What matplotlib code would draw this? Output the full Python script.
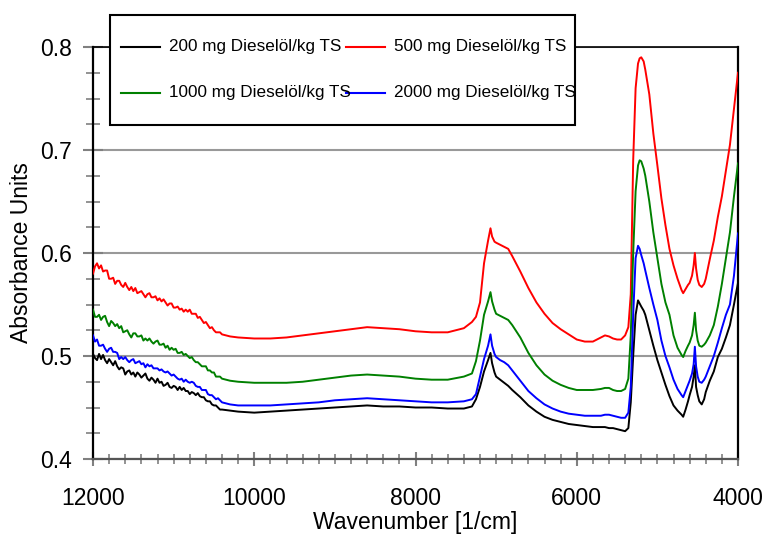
import matplotlib
matplotlib.use("Agg")
import matplotlib.pyplot as plt
from matplotlib.ticker import MultipleLocator
from matplotlib.patches import Rectangle
from matplotlib.lines import Line2D

plt.rcParams['font.family'] = ['Liberation Sans', 'DejaVu Sans']

wavenumber = [
    12000, 11975, 11950, 11925, 11900, 11875, 11850, 11825, 11800, 11775,
    11750, 11725, 11700, 11675, 11650, 11625, 11600, 11575, 11550, 11525,
    11500, 11475, 11450, 11425, 11400, 11375, 11350, 11325, 11300, 11275,
    11250, 11225, 11200, 11175, 11150, 11125, 11100, 11075, 11050, 11025,
    11000, 10975, 10950, 10925, 10900, 10875, 10850, 10825, 10800, 10775,
    10750, 10725, 10700, 10675, 10650, 10625, 10600, 10575, 10550, 10525,
    10500, 10475, 10450, 10425,
    10400, 10300, 10200, 10000, 9800, 9600, 9400, 9200, 9000, 8800, 8600, 8400,
    8200, 8000, 7800, 7600, 7400, 7300, 7250, 7200, 7150, 7100, 7070, 7050, 7020,
    7000, 6950, 6900, 6850, 6800, 6700, 6600, 6500, 6400, 6300, 6200, 6100, 6000,
    5900, 5800, 5700, 5650, 5600, 5550, 5500, 5450, 5400, 5360, 5330, 5300, 5270,
    5240, 5220, 5200, 5170, 5150, 5100, 5050, 5000, 4950, 4900, 4850, 4800, 4750,
    4700, 4680, 4650, 4620, 4600, 4570, 4550, 4535, 4520, 4500, 4480, 4450, 4420,
    4400, 4350, 4300, 4250, 4200, 4150, 4100, 4050, 4000,
]

abs_200 = [
    .502, .498, .496, .502, .497, .501, .496, .493, .497, .494,
    .491, .495, .490, .487, .489, .488, .482, .485, .486, .482,
    .484, .480, .484, .482, .479, .481, .483, .478, .476, .479,
    .477, .474, .478, .474, .475, .471, .472, .474, .470, .469,
    .471, .470, .467, .470, .467, .469, .466, .466, .463, .465,
    .464, .462, .464, .461, .460, .460, .457, .456, .456, .453,
    .452, .452, .450, .448,
    .448, .447, .446, .445, .446, .447, .448, .449, .450, .451, .452, .451,
    .451, .450, .450, .449, .449, .451, .458, .470, .485, .496, .503, .493, .484,
    .480, .477, .474, .471, .467, .460, .452, .446, .441, .438, .436, .434, .433,
    .432, .431, .431, .431, .430, .430, .429, .428, .427, .430, .455, .500, .540,
    .554, .551, .548, .544, .540, .525, .510, .496, .484, .472, .461, .452, .447,
    .443, .441, .448, .456, .462, .470, .480, .491, .470, .462, .456, .453, .458,
    .465, .476, .485, .499, .507, .518, .530, .550, .571,
]

abs_500 = [
    .580, .587, .590, .585, .588, .582, .583, .583, .575, .575,
    .576, .570, .573, .573, .569, .567, .571, .567, .564, .567,
    .563, .566, .561, .562, .563, .560, .557, .560, .561, .557,
    .557, .558, .554, .556, .553, .555, .552, .549, .551, .551,
    .547, .547, .548, .545, .546, .543, .545, .543, .545, .541,
    .541, .541, .537, .538, .535, .532, .533, .530, .527, .528,
    .525, .523, .523, .523,
    .521, .519, .518, .517, .517, .518, .520, .522, .524, .526, .528, .527,
    .526, .524, .523, .523, .527, .533, .538, .552, .590, .612, .624, .616, .611,
    .610, .608, .606, .604, .597, .582, .566, .552, .541, .532, .526, .521, .516,
    .514, .514, .518, .520, .519, .517, .516, .516, .520, .528, .560, .690, .760,
    .784, .789, .790, .786, .778, .754, .716, .685, .653, .627, .604, .588, .575,
    .564, .561, .565, .569, .571, .578, .588, .600, .585, .574, .569, .567, .570,
    .575, .594, .612, .635, .655, .680, .705, .740, .775,
]

abs_1000 = [
    .545, .538, .538, .540, .535, .538, .539, .533, .529, .534,
    .532, .529, .531, .527, .529, .523, .524, .525, .521, .518,
    .522, .522, .519, .519, .520, .515, .517, .515, .517, .514,
    .512, .514, .515, .511, .511, .512, .508, .510, .506, .508,
    .506, .507, .503, .503, .504, .501, .502, .500, .498, .499,
    .496, .494, .494, .492, .490, .490, .490, .486, .486, .484,
    .484, .480, .480, .480,
    .478, .476, .475, .474, .474, .474, .475, .477, .479, .481, .482, .481,
    .480, .478, .477, .477, .480, .483, .495, .515, .540, .553, .562, .553, .545,
    .541, .539, .537, .535, .530, .518, .503, .491, .482, .476, .472, .469, .467,
    .467, .467, .468, .469, .469, .467, .466, .466, .468, .478, .520, .600, .660,
    .685, .690, .689, .682, .675, .650, .620, .595, .570, .552, .540, .520, .508,
    .501, .499, .505, .510, .513, .520, .530, .542, .525, .515, .510, .509, .511,
    .513, .520, .530, .548, .570, .595, .620, .655, .687,
]

abs_2000 = [
    .520, .514, .516, .510, .510, .511, .507, .504, .507, .508,
    .504, .504, .503, .497, .499, .497, .499, .496, .494, .496,
    .497, .493, .494, .495, .492, .493, .489, .492, .490, .491,
    .488, .488, .488, .486, .487, .485, .484, .485, .483, .481,
    .482, .480, .478, .477, .478, .475, .477, .475, .474, .475,
    .474, .471, .470, .470, .467, .467, .467, .463, .462, .462,
    .460, .458, .459, .457,
    .455, .453, .452, .452, .452, .453, .454, .455, .457, .458, .459, .458,
    .457, .456, .455, .455, .456, .458, .463, .480, .497, .510, .521, .510, .502,
    .499, .496, .494, .491, .486, .476, .466, .459, .453, .449, .446, .444, .443,
    .442, .442, .442, .443, .443, .442, .441, .440, .440, .445, .470, .540, .595,
    .607, .604, .598, .590, .583, .566, .550, .535, .515, .500, .489, .477, .468,
    .462, .460, .466, .472, .476, .483, .492, .509, .490, .480, .475, .474, .477,
    .480, .490, .500, .513, .527, .540, .550, .578, .619,
]

series_labels = ["200 mg Dieselöl/kg TS", "500 mg Dieselöl/kg TS",
                 "1000 mg Dieselöl/kg TS", "2000 mg Dieselöl/kg TS"]
series_data = [abs_200, abs_500, abs_1000, abs_2000]
series_colors = ["#000000", "#ff0000", "#008000", "#0000ff"]

W, H = 763, 537
fig = plt.figure(figsize=(W / 100, H / 100), dpi=100)
ax = fig.add_axes([93 / W, 1 - 459 / H, (738 - 93) / W, (459 - 47) / H])

for data, color in zip(series_data, series_colors):
    ax.plot(wavenumber, data, color=color, lw=1.4, zorder=3)

ax.set_xlim(12000, 4000)
ax.set_ylim(0.4, 0.8)
ax.xaxis.set_major_locator(MultipleLocator(2000))
ax.xaxis.set_minor_locator(MultipleLocator(200))
ax.yaxis.set_major_locator(MultipleLocator(0.1))
ax.yaxis.set_minor_locator(MultipleLocator(0.025))
ax.yaxis.set_major_formatter(plt.FuncFormatter(lambda v, p: f"{v:.1f}"))

ax.grid(axis='y', which='major', color='#999999', lw=1.5, zorder=1)
ax.tick_params(axis='x', which='major', direction='inout', length=10, width=1.5,
               color='#808080', labelsize=16.5, pad=15, top=False)
ax.tick_params(axis='x', which='minor', direction='inout', length=7, width=1.2,
               color='#808080', top=False)
ax.tick_params(axis='y', which='major', direction='inout', length=14, width=1.5,
               color='#808080', labelsize=16.5, pad=8, right=False)
ax.tick_params(axis='y', which='minor', direction='inout', length=10, width=1.2,
               color='#808080', right=False)

for side in ['left', 'right']:
    ax.spines[side].set_color('black')
    ax.spines[side].set_linewidth(1.6)
ax.spines['top'].set_color('black')
ax.spines['top'].set_linewidth(1.2)
ax.spines['bottom'].set_color('#555555')
ax.spines['bottom'].set_linewidth(1.6)

ax.set_xlabel("Wavenumber [1/cm]", fontsize=16.5)
ax.set_ylabel("Absorbance Units", fontsize=16.5)
ax.xaxis.set_label_coords(0.5, (459 - 522) / 412)
ax.yaxis.set_label_coords((22 - 93) / 645, 0.5)
ax.xaxis.label.set_va('center')
ax.yaxis.label.set_va('center')

# legend box (drawn manually to reproduce the overlapping layout)
def fx(px):
    return px / W

def fy(py):
    return 1 - py / H

fig.add_artist(Rectangle((fx(110), fy(125)), fx(575) - fx(110), fy(15) - fy(125),
                         transform=fig.transFigure, facecolor='white',
                         edgecolor='black', lw=1.5, zorder=10))
entry_pos = [(121, 47), (346, 47), (121, 93), (346, 93)]
for (x0, y0), lab, color in zip(entry_pos, series_labels, series_colors):
    fig.add_artist(Line2D([fx(x0), fx(x0 + 39)], [fy(y0), fy(y0)],
                          transform=fig.transFigure, color=color, lw=1.5, zorder=11))
    fig.text(fx(x0 + 48), fy(y0), lab, fontsize=12.3, va='center', ha='left',
             zorder=12)

fig.savefig("out.png", dpi=100)
